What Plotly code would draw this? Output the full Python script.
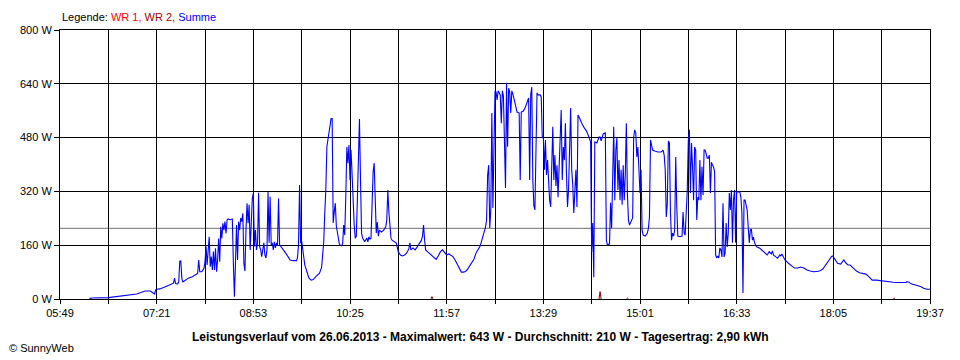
import plotly.graph_objects as go

# ---- data ----
# time of day in minutes after midnight, power of the sum (Summe) in W
summe_min = [377,380,395,404,413,422,430,435,439,440,441,444,451,454,457,458,459,461,462,463,464,465,466,469,471,475,478,480,481,482,484,486,487,488,489,490,491,492,493,494,495,496,497,498,499,500,501,502,503,504,505,506,507,508,509,511,513,514,515,516,517,518,519,520,521,522,523,524,525,526,527,528,529,530,531,532,533,534,535,536,537,538,539,540,541,542,543,544,545,546,547,548,549,550,551,552,553,554,555,556,557,558,560,563,566,568,571,574,575,576,577,578,579,580,581,582,584,586,588,590,592,594,596,598,599,600,601,602,603,604,605,606,607,608,609,610,611,612,613,614,615,617,618,619,620,621,622,623,624,625,626,627,628,629,630,631,632,633,634,635,636,637,639,641,642,643,644,645,646,647,648,649,650,651,652,653,655,657,659,660,661,662,663,664,665,667,669,671,673,675,677,679,681,682,683,685,687,689,691,693,694,695,696,697,699,701,703,705,707,709,711,713,715,717,719,721,723,725,727,729,731,733,735,737,739,741,743,745,747,749,751,753,754,755,756,757,758,759,760,761,762,763,764,765,766,767,768,769,770,771,772,773,774,775,776,777,778,779,780,781,782,783,784,786,787,788,790,792,793,794,795,796,797,798,799,800,801,802,803,804,806,807,808,809,810,811,812,813,814,815,816,817,818,819,820,821,822,823,824,825,826,827,828,829,830,831,832,833,834,835,836,837,838,839,840,841,842,843,844,846,848,850,852,853,854,855,856,857,858,860,862,863,864,866,867,868,869,870,872,873,874,875,876,877,878,879,880,881,882,883,884,885,886,887,888,889,890,891,892,893,894,895,896,897,898,899,900,901,902,903,904,906,908,909,910,911,912,913,915,918,921,923,924,925,926,927,928,929,930,931,932,933,934,935,936,937,939,941,942,943,944,945,946,947,948,949,950,951,952,953,954,955,956,957,958,959,960,961,962,963,964,965,966,967,968,969,970,971,972,973,974,975,976,977,978,979,980,981,982,983,984,985,986,987,988,989,990,991,992,993,994,995,996,997,998,999,1000,1001,1002,1003,1004,1005,1006,1007,1008,1009,1010,1012,1015,1018,1020,1022,1024,1026,1027,1028,1030,1032,1034,1035,1036,1038,1039,1042,1045,1048,1051,1054,1057,1060,1063,1066,1069,1072,1075,1078,1081,1083,1084,1085,1087,1089,1092,1093,1095,1097,1099,1101,1104,1107,1110,1113,1116,1119,1122,1126,1130,1134,1138,1142,1146,1150,1154,1155,1157,1159,1162,1165,1168,1171,1174,1177]
summe_w = [2,3,4,7,11,15,24,24,15,27,29,30,39,42,47,62,46,45,51,113,113,60,51,57,62,66,71,76,116,81,81,91,111,156,101,156,185,96,126,86,141,86,151,81,116,180,111,215,180,225,205,230,195,235,238,236,238,106,7,106,220,116,230,205,241,230,255,106,83,205,285,225,280,146,226,299,315,156,205,146,167,316,156,146,126,156,167,131,122,146,318,167,304,161,167,146,170,152,167,158,299,161,151,140,126,116,114,114,122,161,339,166,172,146,121,101,81,62,56,58,65,71,77,95,128,170,256,324,453,473,497,526,537,537,226,259,285,217,196,175,161,158,164,220,190,306,452,404,458,354,443,369,265,220,181,187,294,413,535,354,196,181,170,181,170,185,178,181,319,378,404,294,196,229,187,205,199,205,214,235,324,259,215,181,175,170,167,140,131,128,131,137,149,167,146,152,146,155,167,175,187,220,175,146,140,134,128,122,118,128,140,146,137,131,134,131,126,116,104,89,80,80,82,89,98,110,119,137,149,158,181,205,214,235,369,398,211,265,553,271,443,617,616,592,619,613,607,523,619,604,434,330,643,453,627,616,553,619,610,598,583,568,556,553,354,556,559,571,580,592,598,354,607,630,354,277,265,443,613,607,607,601,479,482,384,473,369,413,324,294,274,413,512,354,428,336,398,303,384,503,562,354,452,413,523,375,274,324,473,568,384,339,256,324,384,274,547,541,532,520,509,500,485,476,467,140,226,65,467,464,482,482,470,491,494,494,175,161,164,286,211,434,512,294,443,479,324,413,294,384,280,398,294,369,523,315,235,220,229,235,241,482,503,494,422,452,393,315,384,205,190,187,196,211,244,473,458,443,440,437,437,443,428,384,244,285,470,464,256,175,196,187,205,422,274,187,185,187,259,196,190,265,324,473,503,315,464,396,294,452,443,235,303,294,413,294,393,309,443,443,434,419,419,428,315,407,398,393,378,131,122,128,122,152,146,125,285,125,137,226,155,196,315,265,324,167,294,324,167,318,318,318,318,303,256,18,294,294,274,265,214,167,205,208,175,184,167,155,151,143,136,131,141,134,143,131,126,121,131,128,134,122,116,107,98,92,92,95,92,86,83,81,82,83,89,101,116,125,128,125,116,106,104,107,116,107,101,101,92,83,78,77,74,66,56,56,54,53,51,50,49,49,49,52,50,45,43,40,37,32,29,29]

# inverter WR 2 (only a few tiny spikes visible), None separates the spikes
wr2_min = [702, 703, 704, None, 862, 863, 864, None, 888, 889, 890, None, 1142, 1143, 1144]
wr2_w = [0, 7, 0, None, 0, 22, 0, None, 0, 3, 0, None, 0, 3, 0]

average_w = 210
tick_labels = ["05:49", "07:21", "08:53", "10:25", "11:57", "13:29", "15:01", "16:33", "18:05", "19:37"]
y_ticks = [0, 160, 320, 480, 640, 800]

title_text = ("Leistungsverlauf vom 26.06.2013 - Maximalwert: 643 W - "
              "Durchschnitt: 210 W - Tagesertrag: 2,90 kWh")

# ---- derived axis helpers ----
def to_min(s):
    h, m = s.split(":")
    return int(h) * 60 + int(m)

tick_vals = [to_min(s) for s in tick_labels]
minor_vals = [(a + b) / 2 for a, b in zip(tick_vals[:-1], tick_vals[1:])]

fig = go.Figure()
fig.add_trace(go.Scatter(x=wr2_min, y=wr2_w, mode="lines",
                         line=dict(color="#8B0000", width=1), connectgaps=False,
                         name="WR 2", hoverinfo="skip"))
fig.add_trace(go.Scatter(x=summe_min, y=summe_w, mode="lines",
                         line=dict(color="#0000FF", width=1.1), name="Summe"))

fig.add_shape(type="line", xref="paper", x0=0, x1=1, yref="y", y0=average_w, y1=average_w,
              line=dict(color="#8C8C8C", width=1.2), layer="below")

# the page body has an 8px margin: figure is 8px smaller, left/top margins reduced by 8
fig.update_layout(
    width=952, height=352,
    margin=dict(l=52, r=30, t=22, b=61),
    plot_bgcolor="white", paper_bgcolor="white",
    showlegend=False,
    font=dict(family="Liberation Sans, Arial, sans-serif", size=11, color="black"),
)
fig.update_xaxes(
    range=[tick_vals[0], tick_vals[-1]],
    tickmode="array", tickvals=tick_vals, ticktext=tick_labels,
    showgrid=True, gridcolor="black", gridwidth=1,
    showline=True, linecolor="black", linewidth=1, mirror=True,
    ticks="outside", ticklen=4, tickcolor="black", zeroline=False,
    minor=dict(tickmode="array", tickvals=minor_vals, showgrid=True,
               gridcolor="black", gridwidth=1, ticks="outside", ticklen=4, tickcolor="black"),
    tickfont=dict(size=11, color="black"),
)
fig.update_yaxes(
    range=[0, 800], tickmode="array", tickvals=y_ticks,
    ticktext=[f"{v} W" for v in y_ticks],
    showgrid=True, gridcolor="black", gridwidth=1,
    showline=True, linecolor="black", linewidth=1, mirror=True,
    ticks="outside", ticklen=5, tickcolor="black", zeroline=False,
    tickfont=dict(size=11, color="black"),
)

fig.add_annotation(
    text=("Legende: <span style='color:#FF0000'>WR 1,</span> "
          "<span style='color:#A00000'>WR 2,</span> "
          "<span style='color:#0000FF'>Summe</span>"),
    xref="paper", yref="paper", x=0, y=1.0495, xanchor="left", yanchor="middle",
    showarrow=False, font=dict(size=11, color="black"))
fig.add_annotation(
    text="<b>" + title_text + "</b>",
    xref="paper", yref="paper", x=(480 - 60) / 870, y=-0.140,
    xanchor="center", yanchor="middle", showarrow=False,
    font=dict(size=12, color="black"))
fig.add_annotation(
    text="© SunnyWeb", xref="paper", yref="paper", x=-0.061, y=-0.182,
    xanchor="left", yanchor="middle", showarrow=False, font=dict(size=11, color="black"))

fig.write_html("out.html")
